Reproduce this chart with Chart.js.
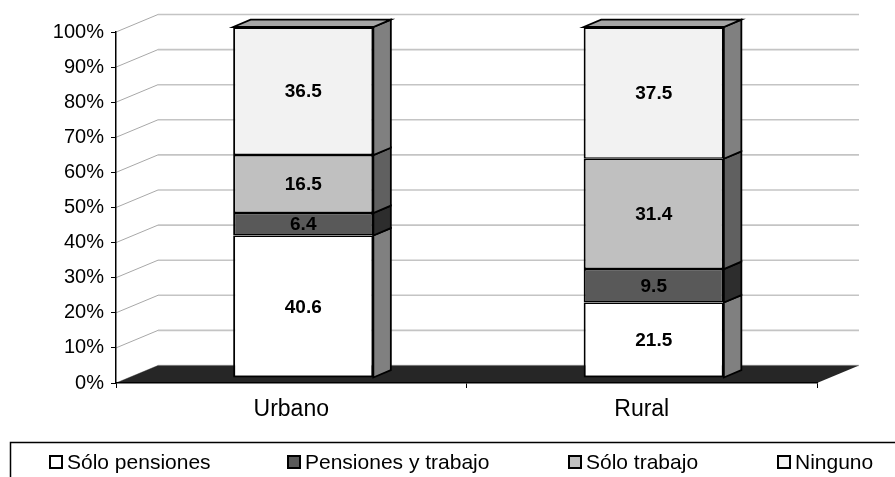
<!DOCTYPE html>
<html><head><meta charset="utf-8">
<script src="https://cdn.jsdelivr.net/npm/chart.js@4.4.0/dist/chart.umd.min.js"></script>
<style>html,body{margin:0;padding:0;background:#fff;} canvas{display:block;}</style>
</head><body>
<canvas id="c" width="895" height="477"></canvas>
<script>
// ---- data ----
const categories = ['Urbano', 'Rural'];
const seriesNames = ['Sólo pensiones', 'Pensiones y trabajo', 'Sólo trabajo', 'Ninguno'];
const soloPensiones = [40.6, 21.5];
const pensionesYTrabajo = [6.4, 9.5];
const soloTrabajo = [16.5, 31.4];
const ninguno = [36.5, 37.5];
const yTickValues = [0, 10, 20, 30, 40, 50, 60, 70, 80, 90, 100];

// ---- styles ----
const seriesValues = [soloPensiones, pensionesYTrabajo, soloTrabajo, ninguno];
const frontColors = ['#ffffff', '#595959', '#c0c0c0', '#f2f2f2'];
const sideColors = ['#808080', '#2d2d2d', '#606060', '#808080'];
const topColor = '#a6a6a6';
const FONT = "'Liberation Sans', Arial, sans-serif";

const DEPTH_X = 42, DEPTH_Y = -17.5;   // back wall offset
const BAR_OX = 12, BAR_OY = -5;        // bar front face offset from front plane
const BAR_DX = 17.5, BAR_DY = -7.4;    // bar depth
const LEGEND_X = [49, 287, 568, 777];

const totals = categories.map((_, j) => seriesValues.reduce((s, arr) => s + arr[j], 0));

const datasets = seriesNames.map((name, i) => ({
  label: name,
  data: seriesValues[i].map((v, j) => v / totals[j] * 100),
  raw: seriesValues[i],
  backgroundColor: frontColors[i],
  borderColor: '#000',
  borderWidth: {
    left: 2, right: 2,
    top: i === seriesNames.length - 1 ? 2 : 1.5,
    bottom: i === 0 ? 2 : 1.5
  },
  borderSkipped: false,
  barPercentage: 0.4,
  categoryPercentage: 1.0,
  clip: false
}));

const threeD = {
  id: 'threeD',
  beforeDraw(chart) {
    const ctx = chart.ctx;
    const y = chart.scales.y, a = chart.chartArea;
    ctx.save();
    yTickValues.forEach(v => {
      const py = y.getPixelForValue(v);
      ctx.strokeStyle = '#a8a8a8';
      ctx.lineWidth = 1;
      ctx.beginPath();
      ctx.moveTo(a.left, py);
      ctx.lineTo(a.left + DEPTH_X, py + DEPTH_Y);
      ctx.stroke();
      ctx.strokeStyle = '#c4c4c4';
      ctx.lineWidth = 1.6;
      ctx.beginPath();
      ctx.moveTo(a.left + DEPTH_X, py + DEPTH_Y);
      ctx.lineTo(a.right + DEPTH_X, py + DEPTH_Y);
      ctx.stroke();
    });
    // floor
    const b = y.getPixelForValue(0);
    ctx.fillStyle = '#262626';
    ctx.beginPath();
    ctx.moveTo(a.left, b);
    ctx.lineTo(a.left + DEPTH_X, b + DEPTH_Y);
    ctx.lineTo(a.right + DEPTH_X, b + DEPTH_Y);
    ctx.lineTo(a.right, b);
    ctx.closePath();
    ctx.fill();
    ctx.restore();
  },
  beforeDatasetsDraw(chart) {
    chart.ctx.save();
    chart.ctx.translate(BAR_OX, BAR_OY);
  },
  afterDatasetsDraw(chart) {
    const ctx = chart.ctx;
    const n = chart.data.datasets.length;
    chart.data.datasets.forEach((ds, i) => {
      const meta = chart.getDatasetMeta(i);
      meta.data.forEach((el, j) => {
        const left = el.x - el.width / 2, right = el.x + el.width / 2;
        const top = Math.min(el.y, el.base), base = Math.max(el.y, el.base);
        ctx.lineJoin = 'miter';
        ctx.lineWidth = 1.8;
        ctx.strokeStyle = '#000';
        ctx.fillStyle = sideColors[i];
        ctx.beginPath();
        ctx.moveTo(right, top);
        ctx.lineTo(right + BAR_DX, top + BAR_DY);
        ctx.lineTo(right + BAR_DX, base + BAR_DY);
        ctx.lineTo(right, base);
        ctx.closePath();
        ctx.fill();
        ctx.stroke();
        if (i === n - 1) {
          ctx.fillStyle = topColor;
          ctx.beginPath();
          ctx.moveTo(left, top);
          ctx.lineTo(left + BAR_DX, top + BAR_DY);
          ctx.lineTo(right + BAR_DX, top + BAR_DY);
          ctx.lineTo(right, top);
          ctx.closePath();
          ctx.fill();
          ctx.stroke();
        }
      });
    });
    // value labels
    ctx.fillStyle = '#000';
    ctx.font = 'bold 19px ' + FONT;
    ctx.textAlign = 'center';
    ctx.textBaseline = 'middle';
    chart.data.datasets.forEach((ds, i) => {
      chart.getDatasetMeta(i).data.forEach((el, j) => {
        ctx.fillText(ds.raw[j].toFixed(1), el.x, (el.y + el.base) / 2 + 1);
      });
    });
    ctx.restore();
  },
  afterDraw(chart) {
    const ctx = chart.ctx;
    ctx.save();
    ctx.strokeStyle = '#000';
    ctx.lineWidth = 1.5;
    ctx.beginPath();
    ctx.moveTo(10.5, 480);
    ctx.lineTo(10.5, 442.5);
    ctx.lineTo(900, 442.5);
    ctx.stroke();
    ctx.font = '21px ' + FONT;
    ctx.textAlign = 'left';
    ctx.textBaseline = 'middle';
    chart.data.datasets.forEach((ds, i) => {
      const x = LEGEND_X[i];
      ctx.fillStyle = frontColors[i];
      ctx.fillRect(x + 1, 456, 12, 12);
      ctx.lineWidth = 2;
      ctx.strokeStyle = '#000';
      ctx.strokeRect(x + 1, 456, 12, 12);
      ctx.fillStyle = '#000';
      ctx.fillText(ds.label, x + 18, 463);
    });
    ctx.restore();
  }
};

new Chart(document.getElementById('c'), {
  type: 'bar',
  data: { labels: categories, datasets },
  options: {
    responsive: false,
    animation: false,
    events: [],
    layout: { padding: { left: 0, right: 78, top: 32, bottom: 0 } },
    plugins: { legend: { display: false }, tooltip: { enabled: false } },
    scales: {
      x: {
        stacked: true,
        afterFit(s) { s.height = 94; },
        grid: { offset: true, drawOnChartArea: false, drawTicks: true, tickLength: 5, color: '#000', lineWidth: 1 },
        border: { display: true, color: '#000', width: 1.5 },
        ticks: { font: { family: FONT, size: 23 }, color: '#000', padding: 8 }
      },
      y: {
        stacked: true,
        min: 0, max: 100,
        afterFit(s) { s.width = 116; },
        afterBuildTicks(s) { s.ticks = yTickValues.map(v => ({ value: v })); },
        grid: { drawOnChartArea: false, drawTicks: true, tickLength: 5, color: '#000', lineWidth: 1 },
        border: { display: true, color: '#000', width: 1.5 },
        ticks: { callback: v => v + '%', font: { family: FONT, size: 20 }, color: '#000', padding: 7 }
      }
    }
  },
  plugins: [threeD]
});
</script>
</body></html>
